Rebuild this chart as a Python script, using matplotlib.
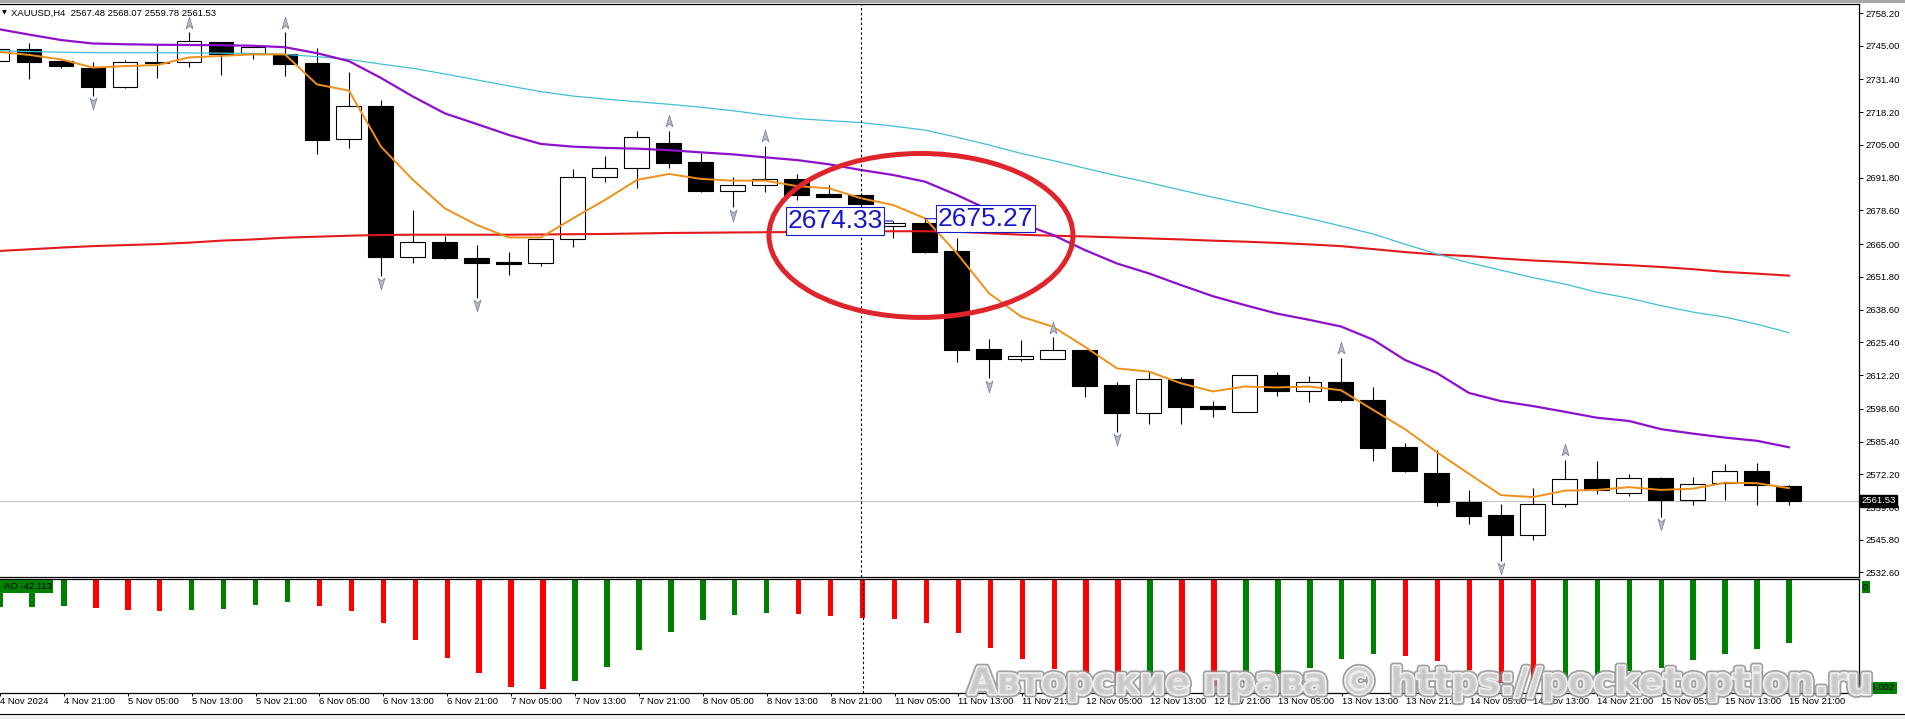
import numpy as np
import matplotlib
matplotlib.use('Agg')
import matplotlib.pyplot as plt
import matplotlib.patheffects as pe
import matplotlib.transforms as mtransforms
from matplotlib.patches import Ellipse, Rectangle
from matplotlib.path import Path

plt.rcParams['font.family'] = ['Liberation Sans', 'DejaVu Sans']

# ---- data (bar index -1 .. 55) ----
bars = np.arange(-1, 56)

opens = [2739.0, 2743.55, 2738.84, 2735.9, 2728.5, 2738.2, 2738.3, 2746.4, 2741.7, 2741.7,
         2738.04, 2707.26, 2720.7, 2659.95, 2665.7, 2659.3, 2657.7, 2657.3, 2666.9, 2692.2,
         2695.6, 2705.6, 2698.0, 2686.6, 2688.7, 2691.4, 2685.2, 2684.7, 2672.3, 2673.4,
         2662.2, 2622.7, 2618.8, 2618.6, 2622.3, 2608.2, 2596.8, 2610.6, 2599.7, 2597.4,
         2612.2, 2605.8, 2609.4, 2602.2, 2583.2, 2572.8, 2561.2, 2555.7, 2547.9, 2560.3,
         2570.4, 2564.7, 2570.7, 2561.9, 2568.7, 2573.6, 2567.48]
highs = [2745.0, 2745.97, 2739.25, 2738.44, 2739.25, 2745.3, 2750.4, 2746.4, 2744.4, 2750.4,
         2743.95, 2734.4, 2723.1, 2678.8, 2668.4, 2664.7, 2661.7, 2667.1, 2695.2, 2700.5,
         2710.6, 2710.75, 2701.6, 2691.9, 2704.6, 2693.3, 2688.7, 2685.5, 2674.33, 2675.27,
         2667.3, 2626.6, 2626.3, 2627.4, 2622.3, 2609.4, 2613.6, 2611.6, 2601.7, 2612.4,
         2613.5, 2611.9, 2619.2, 2607.3, 2585.0, 2582.0, 2566.0, 2560.3, 2566.7, 2578.1,
         2577.6, 2572.4, 2571.2, 2571.1, 2576.4, 2576.7, 2568.07]
lows = [2737.5, 2731.59, 2735.9, 2724.73, 2728.09, 2732.1, 2736.56, 2733.3, 2739.65, 2732.8,
        2701.34, 2703.9, 2652.2, 2657.5, 2659.0, 2643.4, 2652.6, 2656.3, 2664.0, 2690.0,
        2687.8, 2695.6, 2686.2, 2679.8, 2686.2, 2682.8, 2683.9, 2679.5, 2667.3, 2661.3,
        2617.6, 2610.9, 2617.9, 2618.6, 2603.5, 2589.4, 2592.5, 2592.5, 2595.4, 2597.4,
        2603.7, 2601.3, 2601.4, 2577.7, 2573.3, 2559.4, 2552.1, 2537.2, 2545.8, 2559.0,
        2564.2, 2563.5, 2555.0, 2559.8, 2561.8, 2559.8, 2559.78]
closes = [2743.55, 2738.57, 2736.96, 2728.5, 2738.3, 2738.4, 2746.8, 2741.7, 2744.36, 2737.77,
          2707.0, 2720.7, 2659.95, 2665.7, 2659.5, 2657.5, 2657.1, 2667.1, 2691.9, 2695.6,
          2708.1, 2697.85, 2686.6, 2688.7, 2691.4, 2684.9, 2684.1, 2681.0, 2673.6, 2661.9,
          2622.3, 2618.8, 2619.9, 2622.3, 2607.9, 2596.8, 2610.6, 2599.2, 2598.6, 2612.2,
          2605.8, 2609.4, 2602.1, 2582.9, 2573.7, 2561.0, 2555.4, 2547.8, 2560.3, 2570.4,
          2565.9, 2570.7, 2561.8, 2568.3, 2573.5, 2567.8, 2561.53]

ma_orange = [2742.6, 2741.3, 2739.5, 2736.2, 2736.8, 2737.2, 2740.3, 2740.9, 2741.5, 2741.5,
             2729.4, 2726.9, 2704.3, 2690.9, 2679.4, 2672.7, 2667.7, 2667.7, 2675.4, 2682.8,
             2690.9, 2693.3, 2691.3, 2690.6, 2690.6, 2688.4, 2687.5, 2683.5, 2680.8, 2675.4,
             2661.3, 2645.2, 2635.8, 2631.7, 2623.6, 2614.9, 2613.6, 2608.9, 2605.6, 2607.6,
             2607.2, 2607.6, 2606.1, 2598.2, 2590.4, 2581.1, 2572.4, 2563.8, 2563.0, 2565.6,
             2565.9, 2567.0, 2565.9, 2566.4, 2568.8, 2568.6, 2566.6]
ma_purple = [2751.8, 2749.5, 2747.3, 2745.9, 2745.6, 2745.4, 2745.3, 2745.2, 2745.0, 2744.4,
             2742.0, 2738.8, 2732.0, 2724.5, 2717.7, 2713.4, 2709.0, 2705.4, 2704.3, 2703.8,
             2703.5, 2702.9, 2702.0, 2701.2, 2700.0, 2698.9, 2697.2, 2694.9, 2692.9, 2690.2,
             2684.8, 2678.8, 2673.4, 2668.7, 2662.6, 2657.2, 2653.2, 2648.5, 2644.0, 2640.4,
             2637.0, 2634.5, 2631.8, 2626.5, 2618.3, 2613.0, 2605.0, 2601.7, 2599.7, 2597.4,
             2595.0, 2593.7, 2590.4, 2588.6, 2587.0, 2585.7, 2583.1]
ma_cyan = [2743.0, 2742.7, 2742.4, 2742.2, 2742.2, 2742.2, 2742.1, 2742.0, 2741.9, 2741.5,
           2740.6, 2739.5, 2737.6, 2735.9, 2733.6, 2731.2, 2728.8, 2726.5, 2724.7, 2723.5,
           2722.4, 2721.4, 2720.2, 2718.8, 2717.1, 2715.6, 2714.8, 2714.0, 2712.6, 2711.0,
           2708.1, 2705.0, 2701.6, 2698.7, 2695.6, 2692.6, 2689.8, 2686.8, 2683.9, 2681.1,
           2678.1, 2675.4, 2672.3, 2669.1, 2665.0, 2661.0, 2657.5, 2654.5, 2651.5, 2648.9,
           2645.6, 2643.2, 2640.2, 2637.6, 2635.6, 2632.7, 2629.3]
ma_red = [2662.2, 2662.9, 2663.6, 2664.2, 2664.6, 2665.0, 2665.6, 2666.4, 2666.9, 2667.6,
          2668.0, 2668.4, 2668.7, 2668.8, 2668.8, 2668.8, 2668.8, 2668.9, 2669.0, 2669.1,
          2669.3, 2669.5, 2669.6, 2669.7, 2669.8, 2669.9, 2670.0, 2670.1, 2670.2, 2670.2,
          2670.0, 2669.4, 2668.8, 2668.4, 2668.1, 2667.7, 2667.3, 2666.9, 2666.4, 2666.0,
          2665.5, 2664.9, 2664.2, 2663.0, 2661.8, 2660.8, 2660.2, 2659.2, 2658.4, 2657.8,
          2657.1, 2656.5, 2655.8, 2654.9, 2653.8, 2653.1, 2652.3]

ao = [-18.6, -18.3, -17.6, -18.9, -20.2, -20.9, -20.2, -19.6, -16.9, -15.0,
      -17.6, -20.9, -28.8, -40.0, -51.9, -61.8, -71.1, -72.4, -67.1, -57.9,
      -46.6, -34.8, -26.8, -23.8, -22.2, -22.9, -24.2, -25.7, -26.4, -28.8,
      -35.4, -45.3, -52.6, -59.2, -64.9, -70.4, -68.9, -69.3, -70.2, -68.4,
      -62.3, -58.5, -52.6, -49.3, -50.6, -53.7, -59.8, -68.4, -72.2, -71.7,
      -63.4, -60.5, -58.3, -53.2, -49.3, -45.9, -42.113]

fractal_up = [5, 8, 20, 23, 32, 41, 48]
fractal_down = [2, 11, 14, 22, 30, 34, 46, 51]

price_ticks = [2758.20, 2745.00, 2731.40, 2718.20, 2705.00, 2691.80, 2678.60, 2665.00, 2651.80,
               2638.60, 2625.40, 2612.20, 2598.60, 2585.40, 2572.20, 2559.00, 2545.80, 2532.60]
time_ticks = [-1] + list(range(1, 56, 2))
time_labels = ['4 Nov 2024', '4 Nov 21:00', '5 Nov 05:00', '5 Nov 13:00', '5 Nov 21:00',
               '6 Nov 05:00', '6 Nov 13:00', '6 Nov 21:00', '7 Nov 05:00', '7 Nov 13:00',
               '7 Nov 21:00', '8 Nov 05:00', '8 Nov 13:00', '8 Nov 21:00', '11 Nov 05:00',
               '11 Nov 13:00', '11 Nov 21:00', '12 Nov 05:00', '12 Nov 13:00', '12 Nov 21:00',
               '13 Nov 05:00', '13 Nov 13:00', '13 Nov 21:00', '14 Nov 05:00', '14 Nov 13:00',
               '14 Nov 21:00', '15 Nov 05:00', '15 Nov 13:00', '15 Nov 21:00']

last_price = 2561.53
marked_bars = [27, 28]          # bars whose highs carry the blue price labels
cross_bar = 26                  # dotted crosshair

# ---- figure in pixel units ----
W, H = 1905, 719
fig = plt.figure(figsize=(W / 100, H / 100), dpi=100)
fig.patch.set_facecolor('white')


def px_axes(x0, y0, x1, y1):
    return fig.add_axes([x0 / W, 1 - y1 / H, (x1 - x0) / W, (y1 - y0) / H])


def px_text(x, y, s, **kw):
    return fig.text(x / W, 1 - y / H, s, **kw)


ax = px_axes(0, 4, 1859, 577)
ao_ax = px_axes(0, 579, 1859, 693)
xlim = (-0.906, 57.19)

# candles
o = np.array(opens)
c = np.array(closes)
bull = c >= o
body_lo = np.minimum(o, c)
body_h = np.maximum(np.abs(c - o), 0.35)
ax.vlines(bars, lows, highs, color='black', lw=0.8, zorder=2)
ax.bar(bars[bull], body_h[bull], bottom=body_lo[bull], width=0.78,
       facecolor='white', edgecolor='black', lw=0.8, zorder=3)
ax.bar(bars[~bull], body_h[~bull], bottom=body_lo[~bull], width=0.78,
       facecolor='black', edgecolor='black', lw=0.8, zorder=3)

# moving averages
ax.plot(bars, ma_red, color='#E3191C', lw=1.5, zorder=4)
ax.plot(bars, ma_cyan, color='#3FBFD9', lw=0.9, zorder=4)
ax.plot(bars, ma_purple, color='#8E10CC', lw=1.6, zorder=4)
ax.plot(bars, ma_orange, color='#F0901A', lw=1.4, zorder=4)

ax.axhline(last_price, color='#C4C4C4', lw=0.8, zorder=1)

# fractal arrows
up_path = Path([(0, 1), (0.55, -0.85), (0, -0.4), (-0.55, -0.85), (0, 1)],
               [Path.MOVETO, Path.LINETO, Path.LINETO, Path.LINETO, Path.CLOSEPOLY])
down_path = Path([(0, -1), (0.55, 0.85), (0, 0.4), (-0.55, 0.85), (0, -1)],
                 [Path.MOVETO, Path.LINETO, Path.LINETO, Path.LINETO, Path.CLOSEPOLY])
hi = np.array(highs)
lo = np.array(lows)
up_idx = np.array(fractal_up) + 1
dn_idx = np.array(fractal_down) + 1
tr_up = mtransforms.offset_copy(ax.transData, fig=fig, y=7, units='points')
tr_dn = mtransforms.offset_copy(ax.transData, fig=fig, y=-5.3, units='points')
ax.plot(bars[up_idx], hi[up_idx], ls='none', marker=up_path, ms=9, mfc='#B4BBC8',
        mec='#7E8796', mew=0.6, transform=tr_up, zorder=5)
ax.plot(bars[dn_idx], lo[dn_idx], ls='none', marker=down_path, ms=9, mfc='#B4BBC8',
        mec='#7E8796', mew=0.6, transform=tr_dn, zorder=5)

# crosshair
ax.axvline(cross_bar, color='black', lw=0.8, ls=(0, (2.2, 2.2)), zorder=6)
ao_ax.axvline(cross_bar, color='black', lw=0.8, ls=(0, (2.2, 2.2)), zorder=6)

# highlighted ellipse and price labels
ax.add_patch(Ellipse((27.875, 2668.5), 9.5, 66.1, fill=False, ec='#E0242C', lw=3.6, zorder=7))
for kk, side in zip(marked_bars, (-1, 1)):
    price = highs[kk + 1]
    off = -7.6 if side < 0 else 9.4
    ax.annotate('', xy=(kk, price), xytext=(off, 0), textcoords='offset points',
                arrowprops=dict(arrowstyle='-', color='#1A1ACC', lw=0.8, shrinkA=0, shrinkB=0),
                zorder=8)
    ax.annotate(f'{price:.2f}', xy=(kk, price), xytext=(off, 0), textcoords='offset points',
                ha='right' if side < 0 else 'left', va='center', fontsize=19, color='#1616C8',
                bbox=dict(boxstyle='square,pad=0.06', fc='white', ec='#1A1ACC', lw=0.8),
                zorder=9)

ax.set_xlim(*xlim)
ax.set_ylim(2530.78, 2761.83)
ax.yaxis.tick_right()
ax.set_yticks(price_ticks)
ax.set_yticklabels([f'{v:.2f}' for v in price_ticks])
ax.tick_params(axis='y', length=3, width=0.7, labelsize=6.8, pad=1.5)
ax.set_xticks([])
for s in ('top', 'bottom', 'right'):
    ax.spines[s].set_linewidth(0.9)
ax.spines['left'].set_visible(False)

ax.annotate(f'{last_price:.2f}', xy=(1, last_price), xycoords=('axes fraction', 'data'),
            xytext=(1.5, 0), textcoords='offset points', ha='left', va='center',
            fontsize=6.8, color='white', annotation_clip=False,
            bbox=dict(boxstyle='square,pad=0.15', fc='black', ec='black'), zorder=10)

# Awesome Oscillator
ao_arr = np.array(ao)
ao_col = ['#008000' if i == 0 or ao_arr[i] > ao_arr[i - 1] else '#FF0000'
          for i in range(len(ao_arr))]
ao_ax.bar(bars, ao_arr, width=0.17, color=ao_col, zorder=2)
ao_ax.set_xlim(*xlim)
ao_ax.set_ylim(-75.002, 0)
ao_ax.set_yticks([])
ao_ax.set_xticks(time_ticks)
ao_ax.set_xticklabels(time_labels, fontsize=6.8)
for lab in ao_ax.get_xticklabels():
    lab.set_horizontalalignment('left')
ao_ax.tick_params(axis='x', length=2, width=0.7, pad=1.2)
for s in ('top', 'bottom', 'right'):
    ao_ax.spines[s].set_linewidth(0.9)
ao_ax.spines['left'].set_visible(False)

ao_ax.text(0.002, 0.975, f'AO {ao[-1]:.3f}', transform=ao_ax.transAxes, ha='left', va='top',
           fontsize=6.8, color='black',
           bbox=dict(boxstyle='square,pad=0.2', fc='#008000', ec='none'), zorder=10)
px_text(1863, 587, '0', fontsize=6.8, ha='left', va='center', color='black',
        bbox=dict(boxstyle='square,pad=0.15', fc='#008000', ec='none'))
px_text(1863, 688, '-75.002', fontsize=6.8, ha='left', va='center', color='black',
        bbox=dict(boxstyle='square,pad=0.15', fc='#008000', ec='none'))

# header
px_text(2, 13, '▼', fontsize=4.5, family='DejaVu Sans', ha='left', va='center')
px_text(11, 13, 'XAUUSD,H4  2567.48 2568.07 2559.78 2561.53', fontsize=6.8,
        ha='left', va='center')

# window frame bits
fig.patches.append(Rectangle((0, 1 - 3 / H), 1, 3 / H, transform=fig.transFigure,
                             fc='#A8A8A8', ec='none'))
fig.patches.append(Rectangle((0, 0), 1, 5 / H, transform=fig.transFigure,
                             fc='#F0F0F0', ec='none'))
fig.lines.append(plt.Line2D([0, 1], [5 / H, 5 / H], transform=fig.transFigure,
                            color='black', lw=0.8))

# watermark
px_text(968, 694, 'Авторские права © https://pocketoption.ru', fontsize=26.5,
        family='DejaVu Sans', weight='bold', color='#CACACA', ha='left', va='baseline',
        alpha=0.82, zorder=20,
        path_effects=[pe.Stroke(linewidth=5, foreground='#8C8C8C'),
                      pe.Stroke(linewidth=2.5, foreground='white'), pe.Normal()])

fig.savefig('out.png', dpi=100)
